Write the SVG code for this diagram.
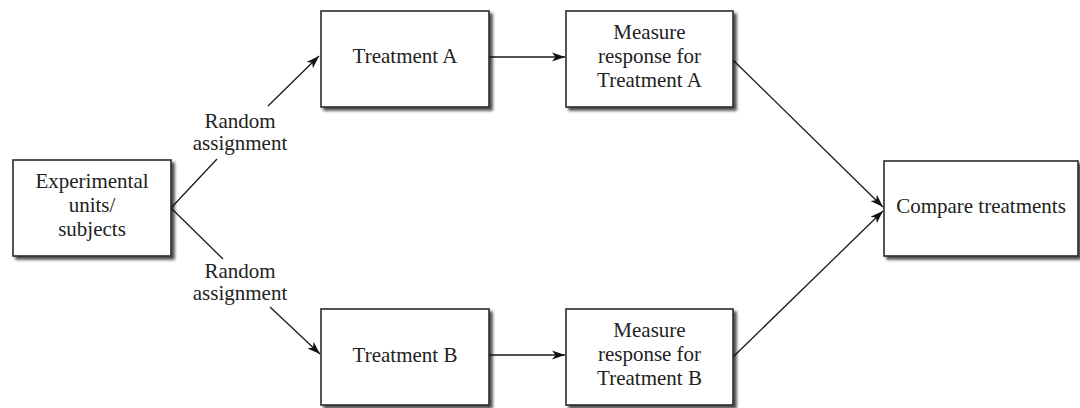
<svg xmlns="http://www.w3.org/2000/svg" width="1080" height="408" viewBox="0 0 1080 408">
<style>
.box{fill:#fff;stroke:#2a2a2a;stroke-width:1.6}
.t{font-family:"Liberation Serif","Times New Roman",serif;font-size:21px;fill:#222;text-anchor:middle}
.c{fill:none;stroke:#1a1a1a;stroke-width:1.3}
</style>
<defs>
<filter id="sh" x="-10%" y="-10%" width="130%" height="130%">
<feOffset in="SourceAlpha" dx="3" dy="3" result="o"/>
<feGaussianBlur in="o" stdDeviation="1.6" result="b"/>
<feComponentTransfer in="b" result="s"><feFuncA type="linear" slope="0.7"/></feComponentTransfer>
<feMerge><feMergeNode in="s"/><feMergeNode in="SourceGraphic"/></feMerge>
</filter>
<marker id="ah" markerUnits="userSpaceOnUse" markerWidth="14" markerHeight="10" refX="13" refY="5" orient="auto">
<path d="M0,0.5 L13,5 L0,9.5 L3.5,5 z" fill="#111"/>
</marker>
</defs>
<g id="connectors">
<path class="c" d="M171,208 L217,159 M268,106 L319,56" marker-end="url(#ah)"/>
<path class="c" d="M171,208 L223,259 M270,307 L320,354" marker-end="url(#ah)"/>
<path class="c" d="M489,57 L565,57" marker-end="url(#ah)"/>
<path class="c" d="M489,355 L565,355" marker-end="url(#ah)"/>
<path class="c" d="M733,60 L883,207" marker-end="url(#ah)"/>
<path class="c" d="M733,357 L883,211" marker-end="url(#ah)"/>
</g>
<g id="label-upper">
<text class="t" x="240" y="128">Random</text>
<text class="t" x="240" y="150">assignment</text>
</g>
<g id="label-lower">
<text class="t" x="240" y="278">Random</text>
<text class="t" x="240" y="300">assignment</text>
</g>
<g id="experimental">
<rect class="box" x="13" y="160" width="158" height="96" filter="url(#sh)"/>
<text class="t" x="92" y="188">Experimental</text>
<text class="t" x="92" y="212">units/</text>
<text class="t" x="92" y="236">subjects</text>
</g>
<g id="treatmentA">
<rect class="box" x="321" y="11" width="168" height="96" filter="url(#sh)"/>
<text class="t" x="405" y="63">Treatment A</text>
</g>
<g id="measureA">
<rect class="box" x="566" y="11" width="167" height="96" filter="url(#sh)"/>
<text class="t" x="649.5" y="39">Measure</text>
<text class="t" x="649.5" y="63">response for</text>
<text class="t" x="649.5" y="87">Treatment A</text>
</g>
<g id="treatmentB">
<rect class="box" x="321" y="309" width="168" height="96" filter="url(#sh)"/>
<text class="t" x="405" y="362">Treatment B</text>
</g>
<g id="measureB">
<rect class="box" x="566" y="309" width="167" height="96" filter="url(#sh)"/>
<text class="t" x="649.5" y="337">Measure</text>
<text class="t" x="649.5" y="361">response for</text>
<text class="t" x="649.5" y="385">Treatment B</text>
</g>
<g id="compare">
<rect class="box" x="884" y="161" width="194" height="95" filter="url(#sh)"/>
<text class="t" x="981" y="213">Compare treatments</text>
</g>
</svg>
